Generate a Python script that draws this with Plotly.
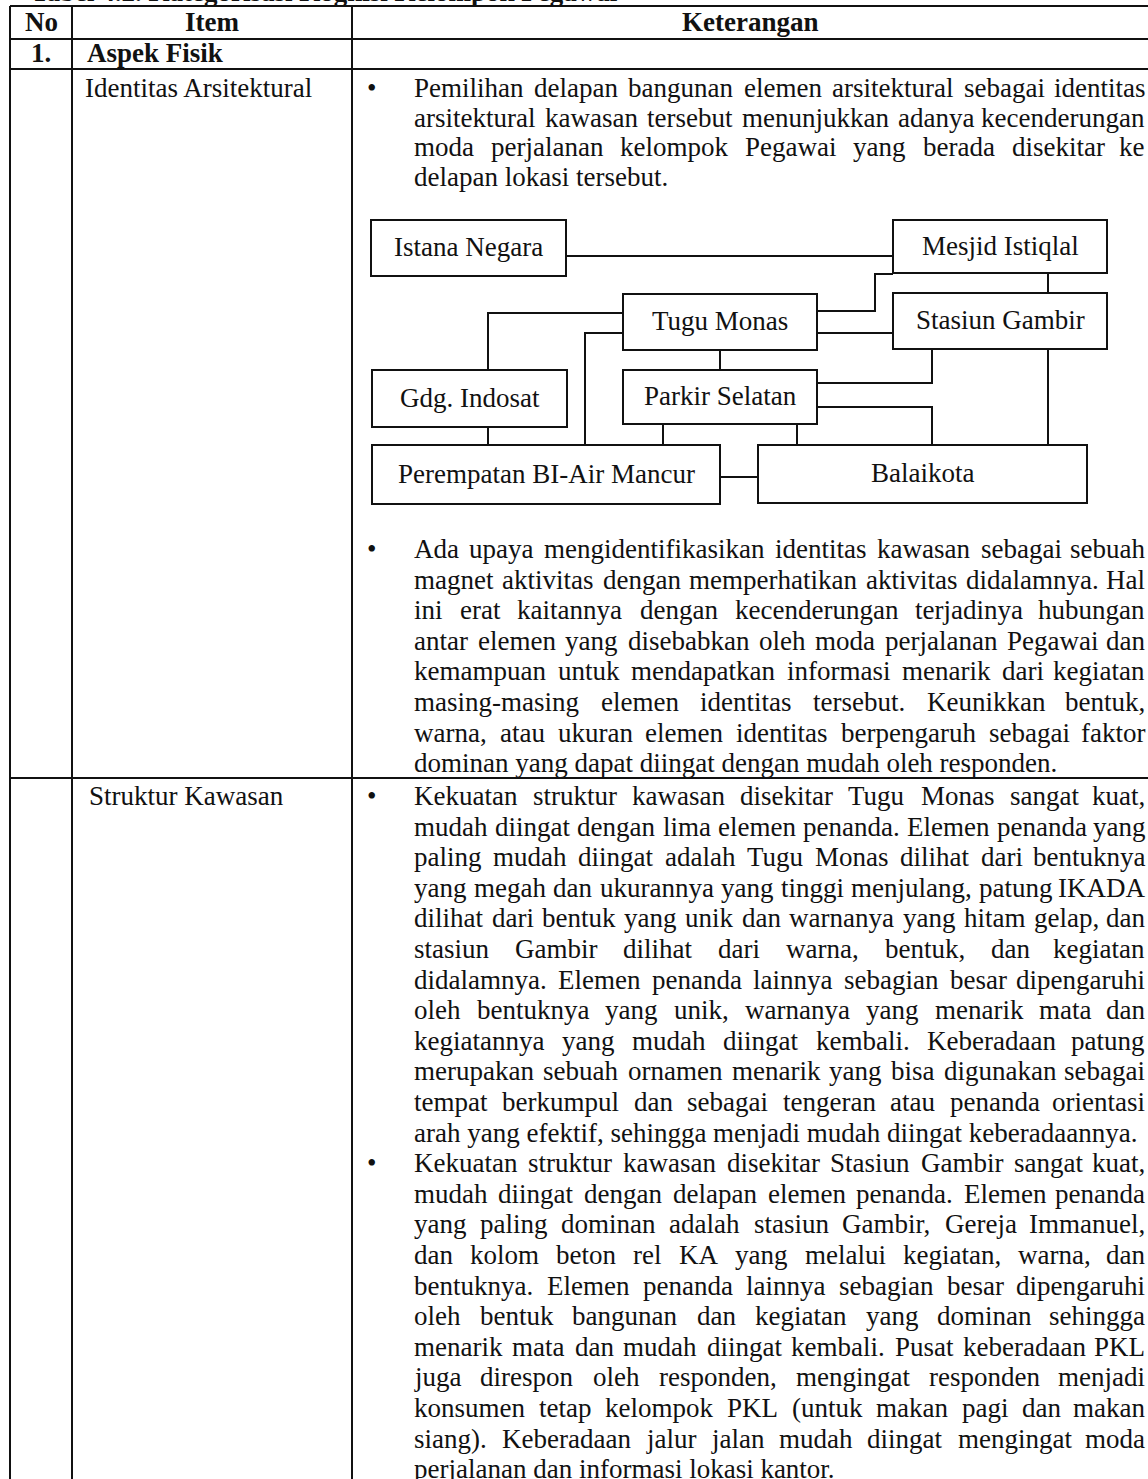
import plotly.graph_objects as go

# ---------------- data (text content) ----------------
title_text = "Tabel 4.2. Kategorisasi Kognisi Kelompok Pegawai"
header_labels = ["No", "Item", "Keterangan"]
section_no = "1."
section_name = "Aspek Fisik"
item_names = ["Identitas Arsitektural", "Struktur Kawasan"]

identitas_para1 = [
    "Pemilihan delapan bangunan elemen arsitektural sebagai identitas",
    "arsitektural kawasan tersebut menunjukkan adanya kecenderungan",
    "moda perjalanan kelompok Pegawai yang berada disekitar ke",
    "delapan lokasi tersebut.",
]
identitas_para2 = [
    "Ada upaya mengidentifikasikan identitas kawasan sebagai sebuah",
    "magnet aktivitas dengan memperhatikan aktivitas didalamnya. Hal",
    "ini erat kaitannya dengan kecenderungan terjadinya hubungan",
    "antar elemen yang disebabkan oleh moda perjalanan Pegawai dan",
    "kemampuan untuk mendapatkan informasi menarik dari kegiatan",
    "masing-masing elemen identitas tersebut. Keunikkan bentuk,",
    "warna, atau ukuran elemen identitas berpengaruh sebagai faktor",
    "dominan yang dapat diingat dengan mudah oleh responden.",
]
struktur_para1 = [
    "Kekuatan struktur kawasan disekitar Tugu Monas sangat kuat,",
    "mudah diingat dengan lima elemen penanda. Elemen penanda yang",
    "paling mudah diingat adalah Tugu Monas dilihat dari bentuknya",
    "yang megah dan ukurannya yang tinggi menjulang, patung IKADA",
    "dilihat dari bentuk yang unik dan warnanya yang hitam gelap, dan",
    "stasiun Gambir dilihat dari warna, bentuk, dan kegiatan",
    "didalamnya. Elemen penanda lainnya sebagian besar dipengaruhi",
    "oleh bentuknya yang unik, warnanya yang menarik mata dan",
    "kegiatannya yang mudah diingat kembali. Keberadaan patung",
    "merupakan sebuah ornamen menarik yang bisa digunakan sebagai",
    "tempat berkumpul dan sebagai tengeran atau penanda orientasi",
    "arah yang efektif, sehingga menjadi mudah diingat keberadaannya.",
]
struktur_para2 = [
    "Kekuatan struktur kawasan disekitar Stasiun Gambir sangat kuat,",
    "mudah diingat dengan delapan elemen penanda. Elemen penanda",
    "yang paling dominan adalah stasiun Gambir, Gereja Immanuel,",
    "dan kolom beton rel KA yang melalui kegiatan, warna, dan",
    "bentuknya. Elemen penanda lainnya sebagian besar dipengaruhi",
    "oleh bentuk bangunan dan kegiatan yang dominan sehingga",
    "menarik mata dan mudah diingat kembali. Pusat keberadaan PKL",
    "juga direspon oleh responden, mengingat responden menjadi",
    "konsumen tetap kelompok PKL (untuk makan pagi dan makan",
    "siang). Keberadaan jalur jalan mudah diingat mengingat moda",
    "perjalanan dan informasi lokasi kantor.",
]

diagram_nodes = ["Istana Negara", "Mesjid Istiqlal", "Tugu Monas", "Stasiun Gambir",
                 "Gdg. Indosat", "Parkir Selatan", "Perempatan BI-Air Mancur", "Balaikota"]
diagram_links = [
    ("Istana Negara", "Mesjid Istiqlal"),
    ("Tugu Monas", "Gdg. Indosat"),
    ("Tugu Monas", "Perempatan BI-Air Mancur"),
    ("Tugu Monas", "Parkir Selatan"),
    ("Gdg. Indosat", "Perempatan BI-Air Mancur"),
    ("Parkir Selatan", "Perempatan BI-Air Mancur"),
    ("Perempatan BI-Air Mancur", "Balaikota"),
    ("Tugu Monas", "Mesjid Istiqlal"),
    ("Tugu Monas", "Stasiun Gambir"),
    ("Mesjid Istiqlal", "Stasiun Gambir"),
    ("Parkir Selatan", "Stasiun Gambir"),
    ("Parkir Selatan", "Balaikota"),
    ("Stasiun Gambir", "Balaikota"),
    ("Parkir Selatan", "Balaikota"),
]

# ---------------- layout / positions (pixel space) ----------------
W, H = 1148, 1479
FONT = "Liberation Serif, Times New Roman, serif"
FS = 27
INK = "#111111"

col_x = [10, 72, 352, 1150]          # vertical table lines
row_y = [6, 39, 69, 778]             # horizontal table lines
TEXT_L, TEXT_R = 413, 1146
BULLET_X = 371

box_pos = {
    "Istana Negara": (371, 220, 566, 276),
    "Mesjid Istiqlal": (893, 220, 1107, 273),
    "Tugu Monas": (623, 294, 817, 350),
    "Stasiun Gambir": (893, 293, 1107, 349),
    "Gdg. Indosat": (372, 370, 567, 427),
    "Parkir Selatan": (623, 370, 817, 424),
    "Perempatan BI-Air Mancur": (372, 445, 720, 504),
    "Balaikota": (758, 445, 1087, 503),
}
link_routes = [
    [(566, 256), (893, 256)],
    [(623, 313), (488, 313), (488, 370)],
    [(623, 333), (585, 333), (585, 445)],
    [(720, 350), (720, 370)],
    [(488, 427), (488, 445)],
    [(663, 424), (663, 445)],
    [(720, 477), (758, 477)],
    [(817, 311), (875, 311), (875, 274), (893, 274)],
    [(817, 333), (893, 333)],
    [(1048, 273), (1048, 293)],
    [(817, 383), (932, 383), (932, 349)],
    [(817, 407), (932, 407), (932, 445)],
    [(1048, 349), (1048, 445)],
    [(797, 424), (797, 445)],
]

STRUK_Y0, STRUK_STEP = 796, 30.6
para_layout = [
    (identitas_para1, 88, 29.6),
    (identitas_para2, 549, 30.6),
    (struktur_para1, STRUK_Y0, STRUK_STEP),
    (struktur_para2, STRUK_Y0 + len(struktur_para1) * STRUK_STEP, STRUK_STEP),
]

# Times / Liberation Serif advance widths (1/1000 em)
CW = {
    'a': 444, 'b': 500, 'c': 444, 'd': 500, 'e': 444, 'f': 333, 'g': 500, 'h': 500,
    'i': 278, 'j': 278, 'k': 500, 'l': 278, 'm': 778, 'n': 500, 'o': 500, 'p': 500,
    'q': 500, 'r': 333, 's': 389, 't': 278, 'u': 500, 'v': 500, 'w': 722, 'x': 500,
    'y': 500, 'z': 444,
    'A': 722, 'B': 667, 'C': 667, 'D': 722, 'E': 611, 'F': 556, 'G': 722, 'H': 722,
    'I': 333, 'J': 389, 'K': 722, 'L': 611, 'M': 889, 'N': 722, 'O': 722, 'P': 556,
    'Q': 722, 'R': 667, 'S': 556, 'T': 611, 'U': 722, 'V': 722, 'W': 944, 'X': 722,
    'Y': 722, 'Z': 611,
    ' ': 250, '.': 250, ',': 250, '-': 333, '(': 333, ')': 333, ':': 278, ';': 278,
}


def tw(s, fs=FS):
    return sum(CW.get(ch, 500) for ch in s) * fs / 1000.0


fig = go.Figure()
shapes = []
annotations = []


def add_text(x, y, text, xanchor="left", size=FS, bold=False, xref="x", yref="y"):
    annotations.append(dict(
        x=x, y=y, xref=xref, yref=yref, text=("<b>%s</b>" % text) if bold else text,
        showarrow=False, xanchor=xanchor, yanchor="middle", borderpad=0,
        font=dict(family=FONT, size=size, color=INK)))


def line(x0, y0, x1, y1, w=2):
    shapes.append(dict(type="line", x0=x0, y0=y0, x1=x1, y1=y1, xref="x", yref="y",
                       line=dict(color=INK, width=w)))


# table grid
for y in row_y:
    line(col_x[0], y, col_x[-1], y)
for x in col_x:
    line(x, row_y[0], x, H + 5)

# header + section row
add_text((col_x[0] + col_x[1]) / 2, 22, header_labels[0], "center", bold=True)
add_text((col_x[1] + col_x[2]) / 2, 22, header_labels[1], "center", bold=True)
add_text(750, 22, header_labels[2], "center", bold=True)
add_text((col_x[0] + col_x[1]) / 2, 53, section_no, "center", bold=True)
add_text(86, 53, section_name, "left", bold=True)

# item names
add_text(84, para_layout[0][1], item_names[0])
add_text(88, para_layout[2][1], item_names[1])

# cut-off title above the page top (only its lower edge shows, as in the scan)
add_text(30, 1 + 8.0 / H, title_text, "left", bold=True, yref="paper")

# paragraphs (justified)
for lines_, y0, step in para_layout:
    add_text(BULLET_X, y0, "\u2022", "center")
    n = len(lines_)
    for i, ln in enumerate(lines_):
        y = y0 + i * step
        if i == n - 1:
            add_text(TEXT_L, y, ln)
            continue
        words = ln.split(" ")
        widths = [tw(wd) for wd in words]
        gap = (TEXT_R - TEXT_L - sum(widths)) / (len(words) - 1)
        x = TEXT_L
        for j, wd in enumerate(words):
            if j == len(words) - 1:
                add_text(TEXT_R, y, wd, "right")
            else:
                add_text(x, y, wd, "left")
            x += widths[j] + gap

# diagram
for name in diagram_nodes:
    x0, y0, x1, y1 = box_pos[name]
    shapes.append(dict(type="rect", x0=x0, y0=y0, x1=x1, y1=y1, xref="x", yref="y",
                       line=dict(color=INK, width=2), fillcolor="rgba(0,0,0,0)"))
    add_text((x0 + x1) / 2, (y0 + y1) / 2 - 1, name, "center")

for (a, b), pts in zip(diagram_links, link_routes):
    path = "M " + " L ".join("%g,%g" % p for p in pts)
    shapes.append(dict(type="path", path=path, xref="x", yref="y",
                       line=dict(color=INK, width=2)))

fig.update_layout(
    width=W, height=H, margin=dict(l=0, r=0, t=0, b=0),
    paper_bgcolor="white", plot_bgcolor="white", showlegend=False,
    xaxis=dict(range=[0, W], visible=False, fixedrange=True),
    yaxis=dict(range=[H, 0], visible=False, fixedrange=True),
    shapes=shapes, annotations=annotations,
)

fig.write_html("out.html", config={"displayModeBar": False, "staticPlot": True},
               post_script="document.body.style.margin='0';")
